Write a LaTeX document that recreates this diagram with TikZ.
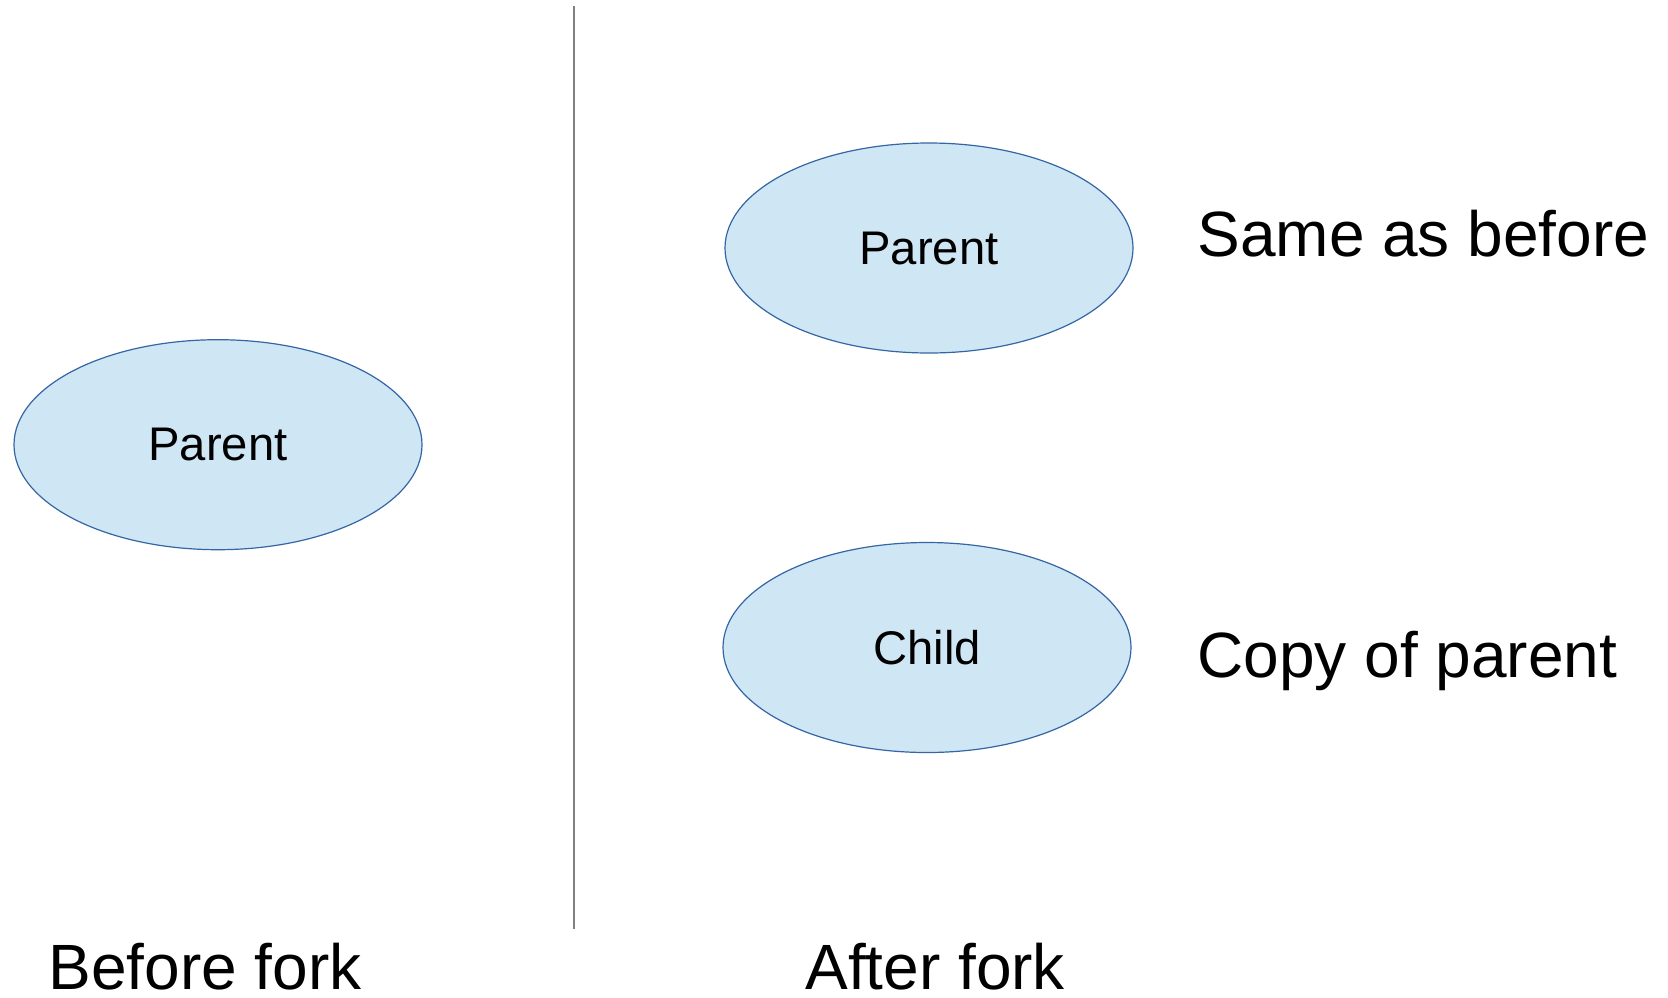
\documentclass[tikz,border=0pt]{standalone}
\usepackage{fontspec}
\setmainfont{Liberation Sans}
\usetikzlibrary{shapes.geometric}
\definecolor{procfill}{HTML}{CFE6F4}
\definecolor{procline}{HTML}{3465A4}
\definecolor{divline}{HTML}{808080}
\tikzset{
  proc/.style={ellipse, draw=procline, fill=procfill, line width=0.6pt,
    minimum width=204pt, minimum height=105pt, inner sep=0pt,
    font=\fontsize{23.6}{28}\selectfont},
  biglabel/.style={anchor=base west, inner sep=0pt, font=\fontsize{32}{38}\selectfont},
  footlabel/.style={biglabel, text depth=0pt}
}
\begin{document}
\begin{tikzpicture}[x=0.5pt,y=-0.5pt]
  \useasboundingbox (0,0) rectangle (1668,997);
  \coordinate (ltop) at (573.5,6);
  \coordinate (lbot) at (573.5,929);
  \draw[divline, line width=1pt] (ltop) -- (lbot);
  \node[proc] (p0) at (218,444.7) {\raisebox{-0.3ex}{Parent}};
  \node[proc] (p1) at (929,248) {\raisebox{-0.3ex}{Parent}};
  \node[proc] (c1) at (927,647.5) {\raisebox{-0.2ex}{Child}};
  \node[biglabel] (same) at (1197,256) {Same as before};
  \node[biglabel] (copy) at (1197,677) {Copy of parent};
  \node[footlabel] (before) at (48,989) {Before fork};
  \node[footlabel] (after) at (805,989) {After fork};
\end{tikzpicture}
\end{document}
